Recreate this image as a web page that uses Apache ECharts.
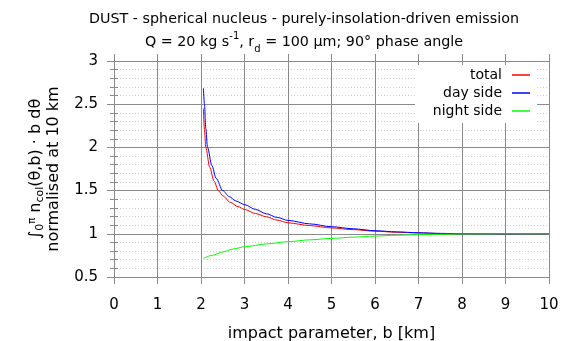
<!DOCTYPE html>
<html>
<head>
<meta charset="utf-8">
<script src="https://cdn.jsdelivr.net/npm/echarts@6/dist/echarts.min.js"></script>
<style>
  html, body { margin: 0; padding: 0; background: #fff; }
  #chart { width: 568px; height: 341px; }
</style>
</head>
<body>
<div id="chart"></div>
<script>
// impact parameter b [km] and normalised column integrals
const totalB = [2.055, 2.08, 2.11, 2.2, 2.3, 2.4, 2.5, 2.67, 2.85, 3.0, 3.25, 3.5, 3.75, 4.0, 4.5, 5.0, 5.5, 6.0, 6.5, 7.0, 7.5, 8.0, 8.5, 9.0, 9.5, 10.0];
const totalV = [2.45, 2.20, 2.0, 1.77, 1.61, 1.50, 1.44, 1.365, 1.315, 1.282, 1.235, 1.197, 1.158, 1.127, 1.095, 1.068, 1.048, 1.03, 1.018, 1.01, 1.003, 1.0, 1.0, 0.999, 1.0, 1.0];

const dayB = [2.055, 2.08, 2.11, 2.15, 2.25, 2.35, 2.5, 2.65, 2.8, 3.0, 3.25, 3.5, 3.75, 4.0, 4.5, 5.0, 5.5, 6.0, 6.5, 7.0, 7.5, 8.0, 8.5, 9.0, 9.5, 10.0];
const dayV = [2.684, 2.50, 2.22, 2.0, 1.79, 1.64, 1.50, 1.43, 1.38, 1.338, 1.283, 1.232, 1.19, 1.155, 1.115, 1.082, 1.058, 1.036, 1.022, 1.012, 1.005, 1.0, 1.0, 0.998, 1.0, 1.0];

const nightB = [2.055, 2.25, 2.5, 2.75, 3.0, 3.5, 4.0, 4.5, 5.0, 5.5, 6.0, 6.5, 7.0, 7.5, 8.0, 8.5, 9.0, 9.5, 10.0];
const nightV = [0.715, 0.75, 0.79, 0.825, 0.85, 0.883, 0.909, 0.93, 0.947, 0.961, 0.974, 0.983, 0.99, 0.995, 0.998, 0.999, 1.0, 1.0, 1.0];

const seriesNames = ["total", "day side", "night side"];
const seriesColors = ["#ff0000", "#0000ff", "#00ff00"];
const legendTops = [68, 86, 104];

const FONT = "DejaVu Sans";
const GRID_COLOR = "#8a8a8a";

function pairs(xs, ys) {
  return xs.map((x, i) => [x, ys[i]]);
}

const chart = echarts.init(document.getElementById("chart"), null, { renderer: "canvas" });

const seriesData = [pairs(totalB, totalV), pairs(dayB, dayV), pairs(nightB, nightV)];

const option = {
  backgroundColor: "#fff",
  animation: false,
  textStyle: { fontFamily: FONT },
  title: {
    text: "DUST - spherical nucleus - purely-insolation-driven emission\n" +
      "Q = 20 kg s{sup|-1}, r{sub|d} = 100 µm; 90° phase angle",
    left: 299,
    top: 3,
    textAlign: "center",
    textStyle: {
      fontFamily: FONT,
      fontSize: 14.3,
      fontWeight: "normal",
      color: "#000",
      lineHeight: 23,
      rich: {
        sup: { fontFamily: FONT, fontSize: 10, verticalAlign: "top", color: "#000" },
        sub: { fontFamily: FONT, fontSize: 10, verticalAlign: "bottom", color: "#000" }
      }
    }
  },
  legend: seriesNames.map((name, i) => ({
    data: [name],
    right: 38,
    top: legendTops[i],
    padding: 0,
    align: "right",
    orient: "vertical",
    icon: "rect",
    itemWidth: 18,
    itemHeight: 1.5,
    selectedMode: false,
    textStyle: { fontFamily: FONT, fontSize: 14, color: "#000", padding: [0, 5, 0, 0] }
  })),
  graphic: [{
    type: "rect",
    shape: { x: 415, y: 65, width: 122, height: 58 },
    style: { fill: "#fff" },
    z: 3
  }],
  grid: { left: 114, right: 19, top: 61, bottom: 64, outerBoundsMode: "none" },
  xAxis: [{
    type: "value",
    min: 0, max: 10, interval: 1,
    name: "impact parameter, b [km]",
    nameLocation: "middle",
    nameGap: 49,
    nameTextStyle: { fontFamily: FONT, fontSize: 16, color: "#000" },
    axisLine: { show: true, onZero: false, lineStyle: { color: GRID_COLOR } },
    axisTick: { show: true, inside: false, length: 7, lineStyle: { color: GRID_COLOR } },
    axisLabel: { fontFamily: FONT, fontSize: 15, color: "#000", margin: 21 },
    splitLine: { show: true, lineStyle: { color: GRID_COLOR, width: 1 } }
  }, {
    type: "value",
    position: "top",
    min: 0, max: 10, interval: 1,
    axisLine: { show: false },
    axisTick: { show: true, inside: false, length: 7, lineStyle: { color: GRID_COLOR } },
    axisLabel: { show: false },
    splitLine: { show: false }
  }],
  yAxis: [{
    type: "value",
    min: 0.5, max: 3, interval: 0.5,
    name: "∫{sub|0}{sup|π} n{sub|col}(θ,b) · b dθ\nnormalised at 10 km",
    nameLocation: "middle",
    nameGap: 46,
    nameTextStyle: {
      fontFamily: FONT, fontSize: 16, color: "#000", lineHeight: 18,
      rich: {
        sup: { fontFamily: FONT, fontSize: 10, verticalAlign: "top", color: "#000" },
        sub: { fontFamily: FONT, fontSize: 11, verticalAlign: "bottom", color: "#000" }
      }
    },
    axisLine: { show: true, onZero: false, lineStyle: { color: GRID_COLOR } },
    axisTick: { show: true, inside: false, length: 7, lineStyle: { color: GRID_COLOR } },
    minorTick: { show: true, splitNumber: 5, length: 4, lineStyle: { color: GRID_COLOR } },
    axisLabel: { fontFamily: FONT, fontSize: 15, color: "#000", margin: 16 },
    splitLine: { show: true, lineStyle: { color: GRID_COLOR, width: 1 } },
    minorSplitLine: { show: true, lineStyle: { color: "#cfcfcf", type: [1, 2], width: 1 } }
  }, {
    type: "value",
    position: "right",
    min: 0.5, max: 3, interval: 0.5,
    axisLine: { show: false },
    axisTick: { show: true, inside: false, length: 7, lineStyle: { color: GRID_COLOR } },
    minorTick: { show: true, splitNumber: 5, length: 4, lineStyle: { color: GRID_COLOR } },
    axisLabel: { show: false },
    splitLine: { show: false }
  }],
  series: seriesNames.map((name, i) => ({
    name: name,
    type: "line",
    xAxisIndex: 0,
    yAxisIndex: 0,
    data: seriesData[i],
    symbol: "none",
    smooth: 0.3,
    smoothMonotone: "x",
    lineStyle: { color: seriesColors[i], width: 1 },
    itemStyle: { color: seriesColors[i] },
    z: 2
  }))
};

chart.setOption(option);
</script>
</body>
</html>
